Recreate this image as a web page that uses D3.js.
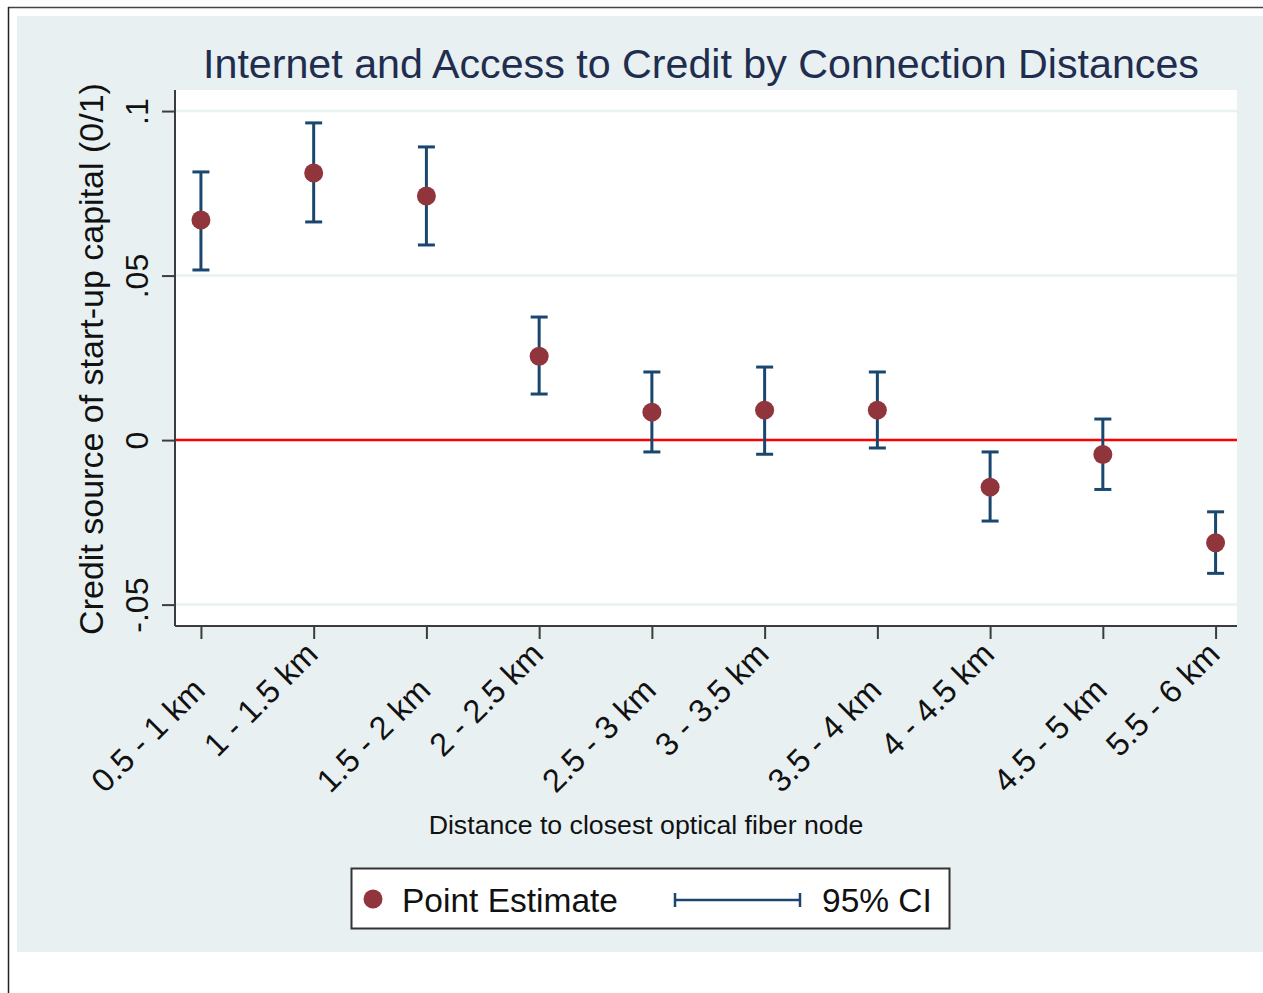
<!DOCTYPE html>
<html>
<head>
<meta charset="utf-8">
<script src="https://cdn.jsdelivr.net/npm/d3@7"></script>
<style>
  body { margin: 0; background: #fff; }
  text { font-family: Arial, "Liberation Sans", sans-serif; }
</style>
</head>
<body>
<svg id="chart" width="1263" height="993"></svg>
<script>
let categories = ["0.5 - 1 km", "1 - 1.5 km", "1.5 - 2 km", "2 - 2.5 km", "2.5 - 3 km",
                  "3 - 3.5 km", "3.5 - 4 km", "4 - 4.5 km", "4.5 - 5 km", "5.5 - 6 km"];
let estimates = [0.0669, 0.0812, 0.0742, 0.0255, 0.0085, 0.0091, 0.0091, -0.0143, -0.0044, -0.0312];
let ciLow  = [0.0517, 0.0663, 0.0593, 0.0140, -0.0036, -0.0043, -0.0024, -0.0246, -0.0150, -0.0405];
let ciHigh = [0.0815, 0.0964, 0.0891, 0.0374, 0.0207, 0.0222, 0.0207, -0.0036, 0.0064, -0.0218];
let yTicks = [-0.05, 0, 0.05, 0.1];
let yTickLabels = ["-.05", "0", ".05", ".1"];

let svg = d3.select("#chart");
let width = 1263, height = 993;

let plot = {left: 175, right: 1237, top: 90, bottom: 626};

let scales = {
  x: d3.scaleLinear().domain([0.77, 10.19]).range([plot.left, plot.right]),
  y: d3.scaleLinear().domain([-0.0565, 0.1064]).range([plot.bottom, plot.top])
};

let maroon = "#90353b", navy = "#1a476f";

// frame + background
svg.append("rect").attr("x", 17).attr("y", 16).attr("width", width - 17).attr("height", 952 - 16)
  .style("fill", "#e8f0f2");
svg.append("line").attr("x1", 8).attr("x2", width).attr("y1", 7.5).attr("y2", 7.5)
  .style("stroke", "#444").style("stroke-width", 1.5);
svg.append("line").attr("x1", 8.5).attr("x2", 8.5).attr("y1", 7).attr("y2", height)
  .style("stroke", "#222").style("stroke-width", 1.5);

svg.append("rect").attr("x", plot.left).attr("y", plot.top)
  .attr("width", plot.right - plot.left).attr("height", plot.bottom - plot.top)
  .style("fill", "#fff");

// grid lines
svg.selectAll(".grid")
  .data(yTicks)
  .enter()
  .append("line")
  .attr("class", "grid")
  .attr("x1", plot.left).attr("x2", plot.right)
  .attr("y1", d => scales.y(d)).attr("y2", d => scales.y(d))
  .style("stroke", "#eaf1f3").style("stroke-width", 2.5);

// zero line
svg.append("line")
  .attr("x1", plot.left).attr("x2", plot.right)
  .attr("y1", scales.y(0)).attr("y2", scales.y(0))
  .style("stroke", "#ff0000").style("stroke-width", 2.5);

// y axis
let yAxis = d3.axisLeft(scales.y).tickValues(yTicks).tickSize(13).tickFormat((d, i) => yTickLabels[i]);
let gy = svg.append("g").attr("transform", "translate(" + plot.left + ",0)").call(yAxis);
gy.select(".domain").attr("d", "M0," + plot.top + "V" + plot.bottom).style("stroke", "#3c3c3c").style("stroke-width", 2);
gy.selectAll(".tick line").style("stroke", "#3c3c3c").style("stroke-width", 2);
gy.selectAll(".tick text")
  .attr("x", null).attr("dy", null)
  .attr("transform", "translate(-27,0) rotate(-90)")
  .attr("text-anchor", "middle")
  .style("font-size", "32px").style("fill", "#111");

// x axis
let xAxis = d3.axisBottom(scales.x).tickValues(d3.range(1, 11)).tickSize(13).tickFormat("");
let gx = svg.append("g").attr("transform", "translate(0," + plot.bottom + ")").call(xAxis);
gx.select(".domain").attr("d", "M" + plot.left + ",0H" + plot.right).style("stroke", "#3c3c3c").style("stroke-width", 2);
gx.selectAll(".tick line").style("stroke", "#3c3c3c").style("stroke-width", 2);

svg.selectAll(".xlabel")
  .data(categories)
  .enter()
  .append("text")
  .attr("class", "xlabel")
  .attr("transform", (d, i) => "translate(" + (scales.x(i + 1) + 6) + "," + (i % 2 == 0 ? 692 : 656) + ") rotate(-45)")
  .attr("text-anchor", "end")
  .style("font-size", "32.5px").style("fill", "#111")
  .text(d => d);

// CI bars
let ci = svg.append("g");
categories.forEach(function(c, i){
  let x = scales.x(i + 1);
  ci.append("line").attr("x1", x).attr("x2", x)
    .attr("y1", scales.y(ciLow[i])).attr("y2", scales.y(ciHigh[i]))
    .style("stroke", navy).style("stroke-width", 3);
  [ciLow[i], ciHigh[i]].forEach(function(v){
    ci.append("line").attr("x1", x - 8.5).attr("x2", x + 8.5)
      .attr("y1", scales.y(v)).attr("y2", scales.y(v))
      .style("stroke", navy).style("stroke-width", 3);
  });
});

// points
svg.selectAll(".point")
  .data(estimates)
  .enter()
  .append("circle")
  .attr("class", "point")
  .attr("cx", (d, i) => scales.x(i + 1))
  .attr("cy", d => scales.y(d))
  .attr("r", 9.5)
  .style("fill", maroon);

// titles
svg.append("text").attr("x", 701).attr("y", 78).attr("text-anchor", "middle")
  .style("font-size", "41.2px").style("fill", "#1f2d4e")
  .text("Internet and Access to Credit by Connection Distances");

svg.append("text").attr("transform", "translate(103,359) rotate(-90)").attr("text-anchor", "middle")
  .style("font-size", "34px").style("fill", "#111")
  .text("Credit source of start-up capital (0/1)");

svg.append("text").attr("x", 646).attr("y", 834).attr("text-anchor", "middle")
  .style("font-size", "26.7px").style("fill", "#111")
  .text("Distance to closest optical fiber node");

// legend
let legend = svg.append("g");
legend.append("rect").attr("x", 351.5).attr("y", 868.5).attr("width", 598).attr("height", 60)
  .style("fill", "#fff").style("stroke", "#333").style("stroke-width", 2);
legend.append("circle").attr("cx", 373).attr("cy", 899).attr("r", 9.5).style("fill", maroon);
legend.append("text").attr("x", 402).attr("y", 912).style("font-size", "33.5px").style("fill", "#111").text("Point Estimate");
legend.append("line").attr("x1", 675).attr("x2", 800).attr("y1", 900).attr("y2", 900)
  .style("stroke", navy).style("stroke-width", 2.5);
[675, 800].forEach(function(x){
  legend.append("line").attr("x1", x).attr("x2", x).attr("y1", 893).attr("y2", 907)
    .style("stroke", navy).style("stroke-width", 2.5);
});
legend.append("text").attr("x", 822).attr("y", 912).style("font-size", "33.5px").style("fill", "#111").text("95% CI");
</script>
</body>
</html>
